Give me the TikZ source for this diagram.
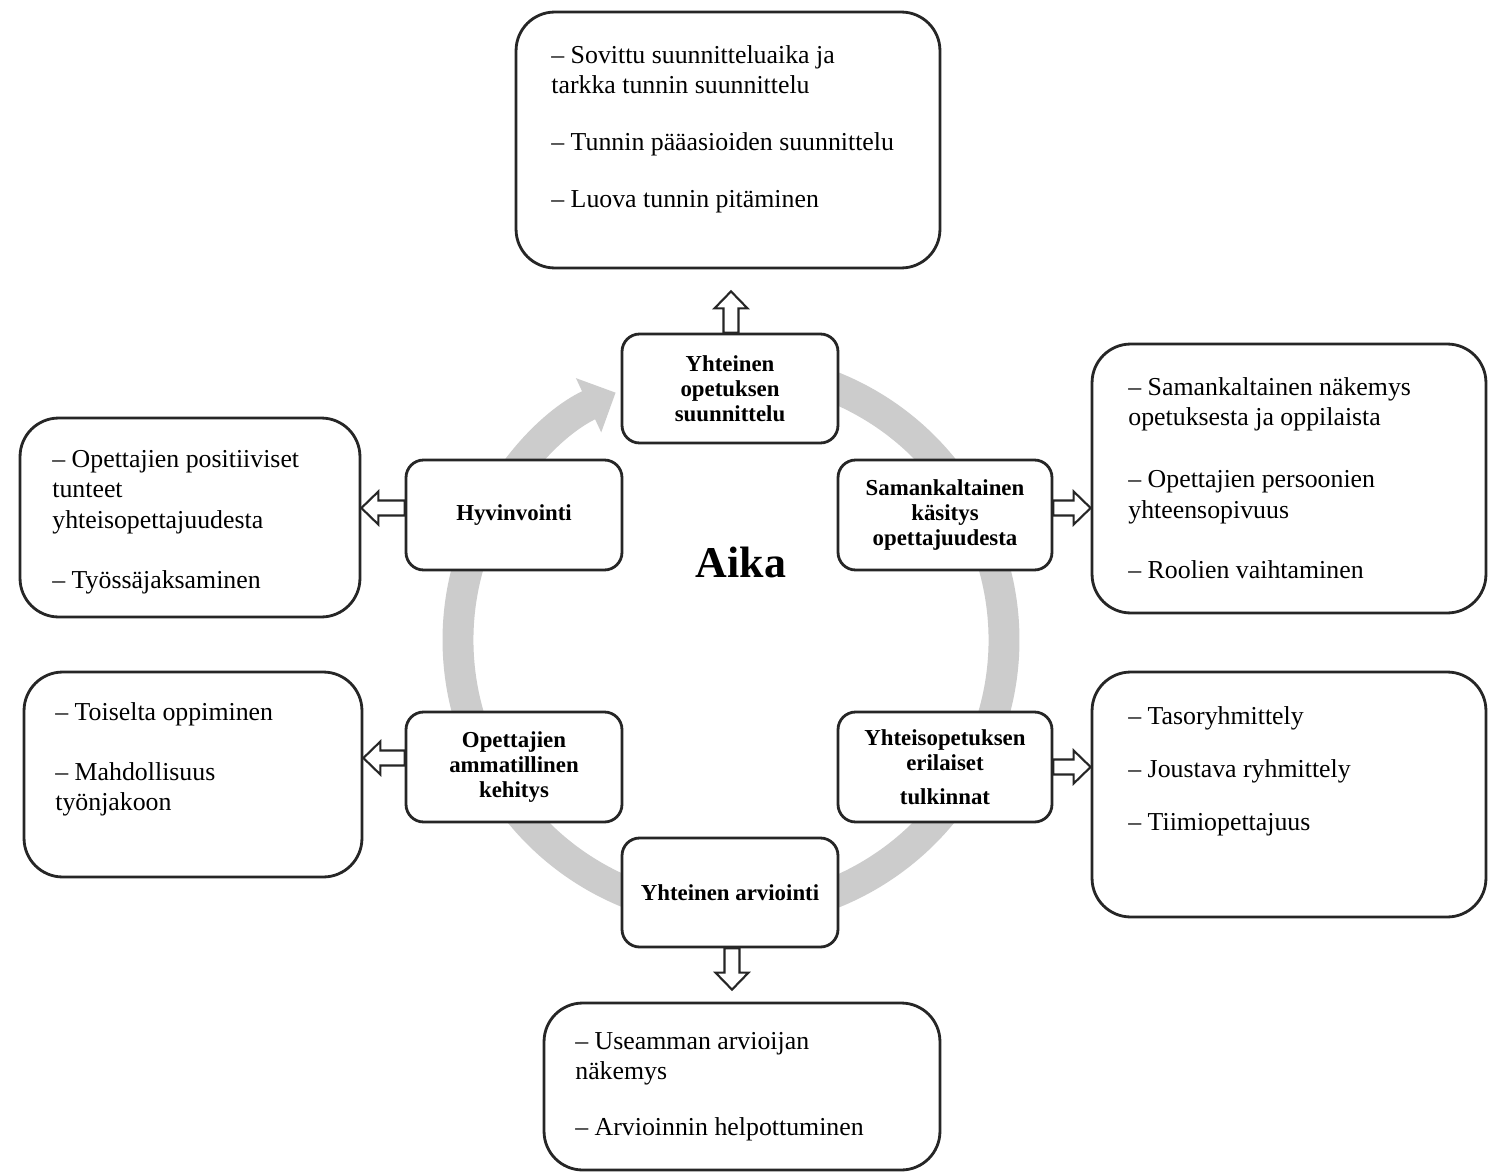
\documentclass[tikz,border=0pt]{standalone}
\usepackage{fontspec}
\setmainfont{Liberation Serif}
\usetikzlibrary{calc,arrows.meta}
\tikzset{
  bigbox/.style={draw=black!85, line width=1.6pt, rounded corners=22pt, fill=white, inner sep=0pt},
  smallbox/.style={draw=black!85, line width=1.6pt, rounded corners=10pt, fill=white, align=center,
    font=\fontsize{13}{14.2}\selectfont\bfseries, minimum width=4.32cm, minimum height=2.2cm, inner sep=0pt},
  itemtext/.style={anchor=north west, align=left, inner sep=0pt, font=\fontsize{14.7}{17.3}\selectfont},
  ring/.style={line width=17.6pt, draw=black!20},
  blockarrow/.style={draw=black!85, line width=1.2pt, fill=white, line join=miter},
}
\newcommand\blockarr[2]{%
  \path (#1) coordinate (ba-a);
  \path (#2) coordinate (ba-b);
  \coordinate (ba-h) at ($(ba-b)!0.34cm!(ba-a)$);
  \draw[blockarrow] ($(ba-a)!0.15cm!90:(ba-b)$) -- ($(ba-h)!0.15cm!-90:(ba-a)$) --
    ($(ba-h)!0.33cm!-90:(ba-a)$) -- (ba-b) -- ($(ba-h)!0.33cm!90:(ba-a)$) --
    ($(ba-h)!0.15cm!90:(ba-a)$) -- ($(ba-a)!0.15cm!-90:(ba-b)$) -- cycle;
}
\begin{document}
\begin{tikzpicture}[x=0.02cm, y=-0.02cm]
\useasboundingbox (0,0) rectangle (1488,1173);
\fill[white] (0,0) rectangle (1488,1173);

% circular arrow
\coordinate (C) at (731,640);
\draw[ring, -{Triangle[length=17pt,width=33pt]}] ([shift={(70:5.46cm)}]C) arc[start angle=70, end angle=-245, radius=5.46cm];

% big boxes
\node[bigbox, minimum width=8.48cm, minimum height=5.12cm] (T) at (728,140) {};
\node[bigbox, minimum width=7.88cm, minimum height=5.38cm] (RT) at (1289,478.5) {};
\node[bigbox, minimum width=7.88cm, minimum height=4.9cm] (RB) at (1289,794.5) {};
\node[bigbox, minimum width=6.8cm, minimum height=3.98cm] (LT) at (190,517.5) {};
\node[bigbox, minimum width=6.76cm, minimum height=4.1cm] (LB) at (193,774.5) {};
\node[bigbox, minimum width=7.92cm, minimum height=3.34cm] (B) at (742,1086.5) {};

% small boxes
\node[smallbox, minimum height=2.18cm] (S1) at (730,388.5) {Yhteinen\\opetuksen\\suunnittelu};
\node[smallbox, minimum width=4.28cm] (S2) at (945,515) {Samankaltainen\\käsitys\\opettajuudesta};
\node[smallbox] (S3) at (514,515) {Hyvinvointi};
\node[smallbox] (S4) at (514,767) {Opettajien\\ammatillinen\\kehitys};
\node[smallbox, minimum width=4.28cm] (S5) at (945,767) {Yhteisopetuksen\\erilaiset\\[5pt]tulkinnat};
\node[smallbox, minimum height=2.18cm] (S6) at (730,892.5) {Yhteinen arviointi};

\node[font=\fontsize{25}{28}\selectfont\bfseries] (aika) at (741,562) {Aika};

% block arrows
\blockarr{$(S1.north)+(0.02cm,0)$}{$(S1.north |- T.south)+(0.02cm,-0.44cm)$}
\blockarr{$(S2.east)+(0,0.14cm)$}{$(RT.west |- S2.east)+(0,0.14cm)$}
\blockarr{$(S3.west)+(0,0.14cm)$}{$(LT.east |- S3.west)+(0,0.14cm)$}
\blockarr{$(S4.west)+(0,0.18cm)$}{$(LB.east |- S4.west)+(0,0.18cm)$}
\blockarr{S5.east}{RB.west |- S5.east}
\blockarr{$(S6.south)+(0.04cm,0)$}{$(S6.south |- B.north)+(0.04cm,0.24cm)$}

% texts
\node[itemtext] (tT) at (551,45) {– Sovittu suunnitteluaika ja\\tarkka tunnin suunnittelu\\[15pt]– Tunnin pääasioiden suunnittelu\\[15pt]– Luova tunnin pitäminen};
\node[itemtext] (tRT) at (1128,377) {– Samankaltainen näkemys\\opetuksesta ja oppilaista\\[18pt]– Opettajien persoonien\\yhteensopivuus\\[17pt]– Roolien vaihtaminen};
\node[itemtext] (tLT) at (52,450) {– Opettajien positiiviset\\tunteet\\yhteisopettajuudesta\\[17pt]– Työssäjaksaminen};
\node[itemtext] (tLB) at (55,702) {– Toiselta oppiminen\\[17pt]– Mahdollisuus\\työnjakoon};
\node[itemtext] (tRB) at (1128,706) {– Tasoryhmittely\\[12.8pt]– Joustava ryhmittely\\[12.8pt]– Tiimiopettajuus};
\node[itemtext] (tB) at (575,1032) {– Useamman arvioijan\\näkemys\\[14.5pt]– Arvioinnin helpottuminen};
\end{tikzpicture}
\end{document}
